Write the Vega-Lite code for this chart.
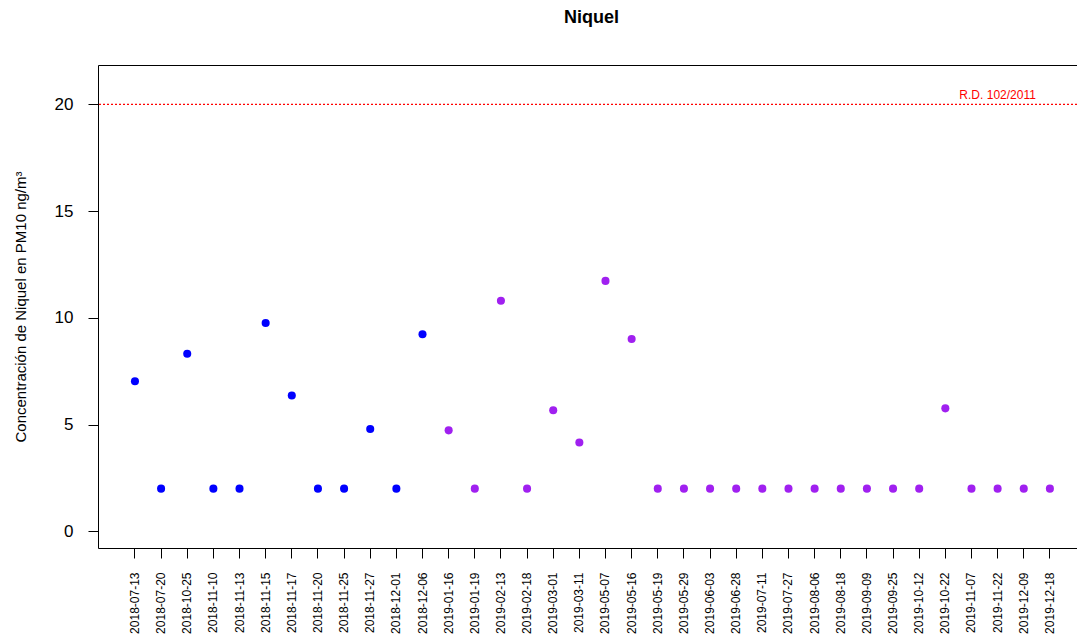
{
  "$schema": "https://vega.github.io/schema/vega-lite/v6.json",
  "width": 979,
  "height": 483,
  "autosize": "none",
  "padding": {"left": 98, "top": 65, "right": 0, "bottom": 93},
  "background": "white",
  "config": {
    "font": "Liberation Sans",
    "view": {"stroke": "black", "strokeWidth": 1},
    "axis": {"grid": false, "domain": false, "tickColor": "black", "labelColor": "black", "titleColor": "black"}
  },
  "title": {"text": "Niquel", "fontSize": 18, "fontWeight": "bold", "anchor": "middle", "offset": 38, "dx": 4, "color": "black"},
  "datasets": {
    "puntos": [
      {"fecha": "2018-07-13", "anio": "2018", "valor": 7.03},
      {"fecha": "2018-07-20", "anio": "2018", "valor": 2},
      {"fecha": "2018-10-25", "anio": "2018", "valor": 8.32},
      {"fecha": "2018-11-10", "anio": "2018", "valor": 2},
      {"fecha": "2018-11-13", "anio": "2018", "valor": 2},
      {"fecha": "2018-11-15", "anio": "2018", "valor": 9.76},
      {"fecha": "2018-11-17", "anio": "2018", "valor": 6.36},
      {"fecha": "2018-11-20", "anio": "2018", "valor": 2},
      {"fecha": "2018-11-25", "anio": "2018", "valor": 2},
      {"fecha": "2018-11-27", "anio": "2018", "valor": 4.79},
      {"fecha": "2018-12-01", "anio": "2018", "valor": 2},
      {"fecha": "2018-12-06", "anio": "2018", "valor": 9.23},
      {"fecha": "2019-01-16", "anio": "2019", "valor": 4.73},
      {"fecha": "2019-01-19", "anio": "2019", "valor": 2},
      {"fecha": "2019-02-13", "anio": "2019", "valor": 10.8},
      {"fecha": "2019-02-18", "anio": "2019", "valor": 2},
      {"fecha": "2019-03-01", "anio": "2019", "valor": 5.67},
      {"fecha": "2019-03-11", "anio": "2019", "valor": 4.16},
      {"fecha": "2019-05-07", "anio": "2019", "valor": 11.73},
      {"fecha": "2019-05-16", "anio": "2019", "valor": 9.01},
      {"fecha": "2019-05-19", "anio": "2019", "valor": 2},
      {"fecha": "2019-05-29", "anio": "2019", "valor": 2},
      {"fecha": "2019-06-03", "anio": "2019", "valor": 2},
      {"fecha": "2019-06-28", "anio": "2019", "valor": 2},
      {"fecha": "2019-07-11", "anio": "2019", "valor": 2},
      {"fecha": "2019-07-27", "anio": "2019", "valor": 2},
      {"fecha": "2019-08-06", "anio": "2019", "valor": 2},
      {"fecha": "2019-08-18", "anio": "2019", "valor": 2},
      {"fecha": "2019-09-09", "anio": "2019", "valor": 2},
      {"fecha": "2019-09-25", "anio": "2019", "valor": 2},
      {"fecha": "2019-10-12", "anio": "2019", "valor": 2},
      {"fecha": "2019-10-22", "anio": "2019", "valor": 5.76},
      {"fecha": "2019-11-07", "anio": "2019", "valor": 2},
      {"fecha": "2019-11-22", "anio": "2019", "valor": 2},
      {"fecha": "2019-12-09", "anio": "2019", "valor": 2},
      {"fecha": "2019-12-18", "anio": "2019", "valor": 2}
    ],
    "limite": [{"valor": 20, "fecha": "2019-11-22", "etiqueta": "R.D. 102/2011"}]
  },
  "layer": [
    {
      "data": {"name": "puntos"},
      "mark": {"type": "circle", "size": 65, "opacity": 1},
      "encoding": {
        "x": {
          "field": "fecha", "type": "ordinal", "sort": null,
          "scale": {"type": "band", "paddingInner": 0, "paddingOuter": 0.725, "align": 0.63, "round": false},
          "axis": {"title": null, "labelAngle": -90, "labelFontSize": 12, "tickSize": 10, "labelPadding": 14, "labelOverlap": false, "bandPosition": 0.5}
        },
        "y": {
          "field": "valor", "type": "quantitative",
          "scale": {"domain": [-0.78, 21.84], "nice": false, "zero": false},
          "axis": {"title": "Concentración de Niquel en PM10 ng/m³", "titleFontSize": 15, "titleFontWeight": "normal", "titlePadding": 26, "values": [0, 5, 10, 15, 20], "labelFontSize": 17, "tickSize": 10, "labelPadding": 15}
        },
        "color": {"field": "anio", "type": "nominal", "scale": {"domain": ["2018", "2019"], "range": ["#0000FF", "#A020F0"]}, "legend": null}
      }
    },
    {
      "data": {"name": "limite"},
      "mark": {"type": "rule", "stroke": "#FF0000", "strokeOpacity": 1, "strokeDash": [2, 2], "strokeWidth": 1.3},
      "encoding": {"y": {"field": "valor", "type": "quantitative"}}
    },
    {
      "data": {"name": "limite"},
      "mark": {"type": "text", "fill": "#FF0000", "fontSize": 12, "align": "center", "baseline": "bottom", "dy": -2},
      "encoding": {
        "x": {"field": "fecha", "type": "ordinal"},
        "y": {"field": "valor", "type": "quantitative"},
        "text": {"field": "etiqueta"}
      }
    }
  ]
}
